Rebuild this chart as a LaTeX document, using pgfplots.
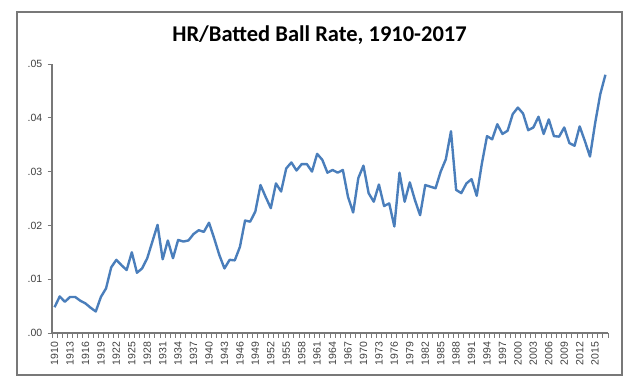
\documentclass[border=0pt]{standalone}
\usepackage{pgfplots}
\pgfplotsset{compat=1.18}
\usepackage{fontspec}
\setmainfont{Liberation Sans}
\newfontfamily\titlefont{Carlito}
\definecolor{lineblue}{RGB}{74,126,187}
\definecolor{axgrey}{RGB}{120,120,120}
\definecolor{lblgrey}{RGB}{64,64,64}
\begin{document}
\begin{tikzpicture}
\path[use as bounding box] (0pt,0pt) rectangle (640pt,389pt);
\draw[draw=axgrey, line width=1.3pt] (17pt,14pt) rectangle (622pt,377pt);
\node[font=\titlefont\fontsize{22.5}{26}\selectfont\bfseries, anchor=base, text=black] at (319.5pt,347.3pt) {HR/Batted Ball Rate, 1910-2017};
\begin{axis}[
  at={(52pt,56pt)}, anchor=south west,
  scale only axis, width=556pt, height=269pt,
  xmin=1909.5, xmax=2017.5, ymin=0, ymax=0.05,
  axis x line*=bottom, axis y line*=left,
  axis line style={draw=axgrey, line width=1.2pt},
  tick align=outside,
  major tick length=4.5pt,
  xtick style={draw=axgrey, line width=1pt},
  ytick style={draw=axgrey, line width=1pt},
  scaled y ticks=false,
  xtick={1909.5,1910.5,...,2017.5},
  xticklabels={},
  extra x ticks={1910,1913,1916,1919,1922,1925,1928,1931,1934,1937,1940,1943,1946,1949,1952,1955,1958,1961,1964,1967,1970,1973,1976,1979,1982,1985,1988,1991,1994,1997,2000,2003,2006,2009,2012,2015},
  extra x tick labels={1910,1913,1916,1919,1922,1925,1928,1931,1934,1937,1940,1943,1946,1949,1952,1955,1958,1961,1964,1967,1970,1973,1976,1979,1982,1985,1988,1991,1994,1997,2000,2003,2006,2009,2012,2015},
  extra x tick style={major tick length=0pt, xticklabel style={rotate=90, anchor=east, inner sep=0pt, outer xsep=9pt, outer ysep=0pt, font=\fontsize{10.5}{12}\selectfont, text=lblgrey}},
  ytick={0,0.01,0.02,0.03,0.04,0.05},
  yticklabels={.00,.01,.02,.03,.04,.05},
  yticklabel style={anchor=east, inner sep=0pt, xshift=-5pt, font=\fontsize{10.5}{12}\selectfont, text=lblgrey},
  clip=false,
]
\addplot[lineblue, line width=2.4pt, line join=round, mark=none] table {
x y
1910 0.0048
1911 0.0068
1912 0.0058
1913 0.0067
1914 0.0067
1915 0.0060
1916 0.0055
1917 0.0047
1918 0.0040
1919 0.0067
1920 0.0083
1921 0.0122
1922 0.0136
1923 0.0126
1924 0.0117
1925 0.0150
1926 0.0112
1927 0.0120
1928 0.0139
1929 0.0170
1930 0.0201
1931 0.0137
1932 0.0172
1933 0.0139
1934 0.0173
1935 0.0170
1936 0.0172
1937 0.0184
1938 0.0191
1939 0.0188
1940 0.0205
1941 0.0176
1942 0.0145
1943 0.0120
1944 0.0136
1945 0.0135
1946 0.0160
1947 0.0209
1948 0.0207
1949 0.0226
1950 0.0275
1951 0.0253
1952 0.0232
1953 0.0278
1954 0.0263
1955 0.0306
1956 0.0317
1957 0.0302
1958 0.0314
1959 0.0314
1960 0.0300
1961 0.0333
1962 0.0322
1963 0.0298
1964 0.0303
1965 0.0298
1966 0.0303
1967 0.0253
1968 0.0224
1969 0.0288
1970 0.0311
1971 0.0260
1972 0.0244
1973 0.0276
1974 0.0236
1975 0.0241
1976 0.0198
1977 0.0298
1978 0.0244
1979 0.0280
1980 0.0247
1981 0.0219
1982 0.0275
1983 0.0272
1984 0.0269
1985 0.0300
1986 0.0323
1987 0.0375
1988 0.0266
1989 0.0260
1990 0.0278
1991 0.0286
1992 0.0255
1993 0.0315
1994 0.0366
1995 0.0360
1996 0.0388
1997 0.0370
1998 0.0376
1999 0.0407
2000 0.0419
2001 0.0408
2002 0.0377
2003 0.0382
2004 0.0402
2005 0.0370
2006 0.0397
2007 0.0366
2008 0.0365
2009 0.0382
2010 0.0353
2011 0.0348
2012 0.0384
2013 0.0357
2014 0.0328
2015 0.0390
2016 0.0444
2017 0.0480
};
\end{axis}
\end{tikzpicture}
\end{document}
